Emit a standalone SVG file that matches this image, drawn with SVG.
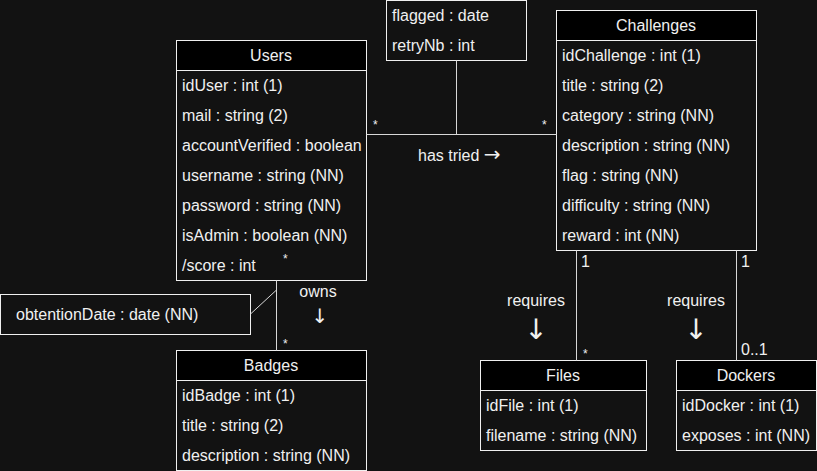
<svg xmlns="http://www.w3.org/2000/svg" width="817" height="471" viewBox="0 0 817 471">
<style>
text{font-family:"Liberation Sans",Arial,sans-serif;font-size:16px;fill:#f0f0f0}
.hd{text-anchor:middle}
.box{fill:#121212;stroke:#f0f0f0;stroke-width:1}
.head{fill:#000;stroke:#f0f0f0;stroke-width:1}
.ln{stroke:#d8d8d8;stroke-width:1;fill:none}
.sm{font-size:12px}
.ar{text-anchor:middle;font-family:"DejaVu Sans",sans-serif}
</style>
<rect width="817" height="471" fill="#121212"/>
<g id="users">
<rect class="box" x="176.5" y="40.5" width="190" height="240"/>
<rect class="head" x="176.5" y="40.5" width="190" height="30"/>
<text class="hd" x="271" y="61">Users</text>
<text x="182" y="91">idUser : int (1)</text>
<text x="182" y="121">mail : string (2)</text>
<text x="182" y="151">accountVerified : boolean</text>
<text x="182" y="181">username : string (NN)</text>
<text x="182" y="211">password : string (NN)</text>
<text x="182" y="241">isAdmin : boolean (NN)</text>
<text x="182" y="271">/score : int</text>
</g>
<g id="hastried">
<rect class="box" x="386.5" y="0.5" width="140" height="60"/>
<text x="392" y="21">flagged : date</text>
<text x="392" y="51">retryNb : int</text>
</g>
<g id="challenges">
<rect class="box" x="556.5" y="10.5" width="200" height="240"/>
<rect class="head" x="556.5" y="10.5" width="200" height="30"/>
<text class="hd" x="656" y="31">Challenges</text>
<text x="562" y="61">idChallenge : int (1)</text>
<text x="562" y="91">title : string (2)</text>
<text x="562" y="121">category : string (NN)</text>
<text x="562" y="151">description : string (NN)</text>
<text x="562" y="181">flag : string (NN)</text>
<text x="562" y="211">difficulty : string (NN)</text>
<text x="562" y="241">reward : int (NN)</text>
</g>
<g id="owns">
<rect class="box" x="0.5" y="294.5" width="250" height="40"/>
<text x="16" y="320">obtentionDate : date (NN)</text>
</g>
<g id="badges">
<rect class="box" x="176.5" y="350.5" width="190" height="120"/>
<rect class="head" x="176.5" y="350.5" width="190" height="30"/>
<text class="hd" x="271" y="371">Badges</text>
<text x="182" y="401">idBadge : int (1)</text>
<text x="182" y="431">title : string (2)</text>
<text x="182" y="461">description : string (NN)</text>
</g>
<g id="files">
<rect class="box" x="480.5" y="360.5" width="166" height="90"/>
<rect class="head" x="480.5" y="360.5" width="166" height="30"/>
<text class="hd" x="563" y="381">Files</text>
<text x="486" y="411">idFile : int (1)</text>
<text x="486" y="441">filename : string (NN)</text>
</g>
<g id="dockers">
<rect class="box" x="676.5" y="360.5" width="140" height="90"/>
<rect class="head" x="676.5" y="360.5" width="140" height="30"/>
<text class="hd" x="746" y="381">Dockers</text>
<text x="682" y="411">idDocker : int (1)</text>
<text x="682" y="441">exposes : int (NN)</text>
</g>
<g id="connectors">
<line class="ln" x1="366.5" y1="134.5" x2="556.5" y2="134.5"/>
<line class="ln" x1="456.5" y1="60.5" x2="456.5" y2="134.5"/>
<line class="ln" x1="276.5" y1="280.5" x2="276.5" y2="350.5"/>
<line class="ln" x1="250.5" y1="314" x2="276.5" y2="290"/>
<line class="ln" x1="576.5" y1="250.5" x2="576.5" y2="360.5"/>
<line class="ln" x1="736.5" y1="250.5" x2="736.5" y2="360.5"/>
<text class="sm" x="373" y="129">*</text>
<text class="sm" x="542" y="129">*</text>
<text x="418" y="161">has tried <tspan style="font-family:'DejaVu Sans',sans-serif;font-size:20px">→</tspan></text>
<text class="sm" x="283" y="263">*</text>
<text class="sm" x="283" y="348">*</text>
<text x="318" y="297" class="hd">owns</text>
<text x="320" y="323" class="ar" style="font-size:20px">↓</text>
<text x="581" y="267">1</text>
<text x="741" y="267">1</text>
<text class="sm" x="583" y="358">*</text>
<text x="741" y="355">0..1</text>
<text x="536" y="306" class="hd">requires</text>
<text x="536" y="339" class="ar" style="font-size:28px">↓</text>
<text x="696" y="306" class="hd">requires</text>
<text x="696" y="339" class="ar" style="font-size:28px">↓</text>
</g>
</svg>
